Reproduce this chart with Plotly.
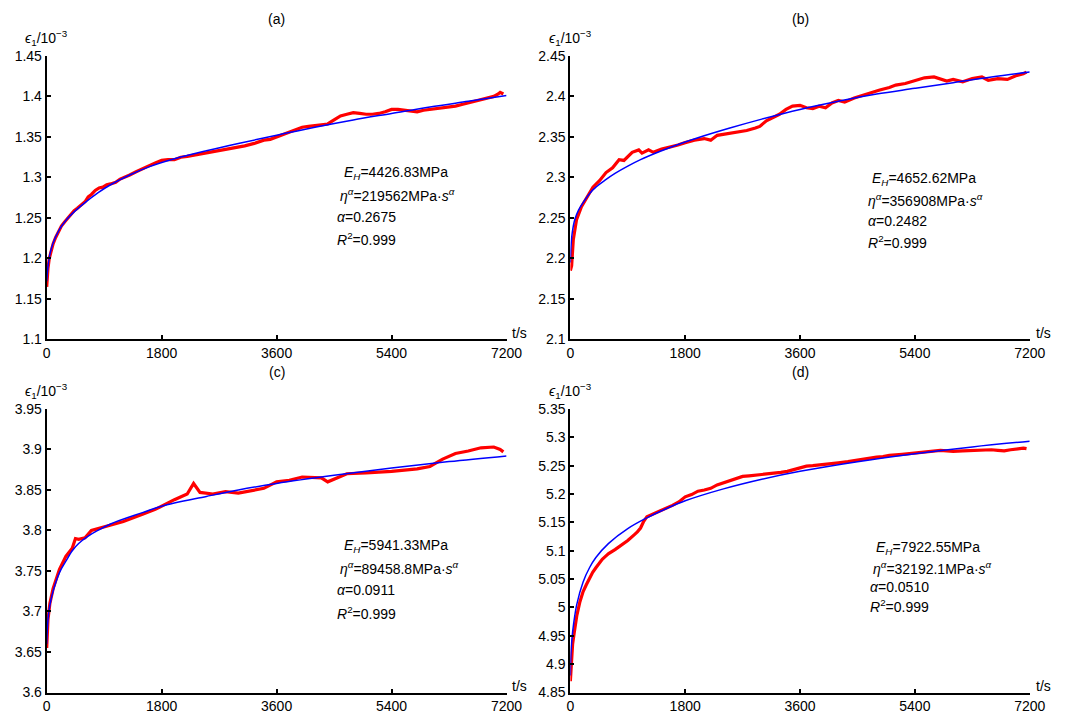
import plotly.graph_objects as go

# ---------------- data ----------------
x_ticks = [0, 1800, 3600, 5400, 7200]
x_ticktext = ["0", "1800", "3600", "5400", "7200"]

# (a)
a_t_red = [0, 8, 20, 40, 70, 100, 140, 180, 230, 280, 330, 380, 430, 480, 540, 600, 650, 700, 760,
           820, 880, 940, 1000, 1080, 1150, 1220, 1300, 1400, 1500, 1600, 1700, 1800, 1900, 2000,
           2100, 2200, 2350, 2500, 2650, 2800, 2950, 3100, 3250, 3400, 3500, 3600, 3700, 3800,
           3900, 4000, 4100, 4200, 4300, 4400, 4500, 4600, 4700, 4800, 4900, 5000, 5100, 5200,
           5300, 5400, 5500, 5600, 5700, 5800, 5900, 6000, 6100, 6200, 6300, 6400, 6500, 6600,
           6700, 6800, 6900, 7000, 7070, 7100, 7150]
a_e_red = [1.165, 1.178, 1.188, 1.200, 1.209, 1.218, 1.226, 1.232, 1.240, 1.245, 1.250, 1.255,
           1.259, 1.262, 1.266, 1.270, 1.276, 1.279, 1.284, 1.287, 1.288, 1.291, 1.292, 1.294,
           1.298, 1.300, 1.303, 1.307, 1.311, 1.315, 1.318, 1.321, 1.322, 1.322, 1.325, 1.326,
           1.328, 1.330, 1.332, 1.335, 1.337, 1.339, 1.342, 1.346, 1.347, 1.350, 1.354, 1.357,
           1.360, 1.362, 1.363, 1.364, 1.365, 1.366, 1.371, 1.376, 1.378, 1.380, 1.379, 1.378,
           1.378, 1.379, 1.381, 1.384, 1.384, 1.383, 1.382, 1.381, 1.383, 1.384, 1.385, 1.386,
           1.387, 1.388, 1.390, 1.392, 1.394, 1.396, 1.398, 1.400, 1.403, 1.405, 1.403]
a_t_fit = [0, 20, 50, 100, 200, 300, 450, 600, 800, 1000, 1300, 1600, 2000, 2500, 3000, 3600,
           4200, 4800, 5400, 6000, 6600, 7200]
a_e_fit = [1.172, 1.190, 1.205, 1.219, 1.236, 1.247, 1.259, 1.269, 1.281, 1.291, 1.303, 1.313,
           1.323, 1.333, 1.342, 1.352, 1.362, 1.371, 1.379, 1.387, 1.394, 1.401]
a_yticks = [1.1, 1.15, 1.2, 1.25, 1.3, 1.35, 1.4, 1.45]
a_yticktext = ["1.1", "1.15", "1.2", "1.25", "1.3", "1.35", "1.4", "1.45"]

# (b)
b_t_red = [0, 20, 46, 97, 174, 251, 354, 457, 559, 662, 764, 840, 969, 1072, 1123, 1226, 1300,
           1431, 1550, 1687, 1800, 1944, 2097, 2200, 2302, 2450, 2558, 2764, 2900, 2969, 3072,
           3180, 3277, 3380, 3482, 3600, 3700, 3800, 3900, 4000, 4100, 4200, 4300, 4450, 4600,
           4700, 4850, 5000, 5100, 5250, 5400, 5550, 5700, 5800, 5900, 6000, 6150, 6300, 6450,
           6550, 6700, 6850, 7000, 7100, 7150]
b_e_red = [2.185, 2.191, 2.223, 2.248, 2.264, 2.274, 2.288, 2.296, 2.306, 2.312, 2.322, 2.321,
           2.331, 2.334, 2.330, 2.334, 2.331, 2.335, 2.337, 2.340, 2.343, 2.346, 2.348, 2.346,
           2.352, 2.354, 2.356, 2.358, 2.361, 2.363, 2.370, 2.374, 2.378, 2.384, 2.388, 2.389,
           2.386, 2.385, 2.388, 2.386, 2.392, 2.395, 2.393, 2.398, 2.402, 2.405, 2.408, 2.411,
           2.414, 2.416, 2.419, 2.423, 2.424, 2.421, 2.419, 2.421, 2.418, 2.422, 2.424, 2.420,
           2.422, 2.421, 2.426, 2.428, 2.430]
b_t_fit = [0, 10, 30, 70, 130, 200, 300, 400, 550, 700, 900, 1100, 1400, 1700, 2000, 2500, 3000,
           3600, 4200, 4800, 5400, 6000, 6600, 7200]
b_e_fit = [2.195, 2.215, 2.232, 2.248, 2.260, 2.269, 2.280, 2.288, 2.297, 2.305, 2.314, 2.322,
           2.332, 2.341, 2.349, 2.361, 2.372, 2.384, 2.394, 2.403, 2.410, 2.417, 2.424, 2.430]
b_yticks = [2.1, 2.15, 2.2, 2.25, 2.3, 2.35, 2.4, 2.45]
b_yticktext = ["2.1", "2.15", "2.2", "2.25", "2.3", "2.35", "2.4", "2.45"]

# (c)
c_t_red = [0, 20, 50, 100, 200, 300, 400, 450, 500, 600, 700, 850, 1000, 1200, 1500, 1700, 2000,
           2200, 2300, 2400, 2600, 2800, 3000, 3200, 3400, 3600, 3800, 4000, 4300, 4400, 4700,
           5000, 5400, 5800, 6000, 6200, 6400, 6600, 6800, 7000, 7100, 7150]
c_e_red = [3.655, 3.690, 3.710, 3.728, 3.752, 3.768, 3.778, 3.790, 3.789, 3.791, 3.800, 3.803,
           3.806, 3.811, 3.820, 3.826, 3.838, 3.845, 3.858, 3.847, 3.845, 3.848, 3.846, 3.849,
           3.852, 3.860, 3.862, 3.866, 3.865, 3.860, 3.870, 3.871, 3.873, 3.876, 3.879, 3.888,
           3.895, 3.898, 3.902, 3.903, 3.900, 3.897]
c_t_fit = [0, 20, 50, 100, 200, 300, 400, 500, 650, 800, 1000, 1500, 1800, 2500, 3000, 3600,
           4500, 5400, 6300, 7200]
c_e_fit = [3.660, 3.690, 3.708, 3.725, 3.748, 3.762, 3.775, 3.784, 3.793, 3.800, 3.808, 3.822,
           3.830, 3.842, 3.850, 3.858, 3.868, 3.877, 3.885, 3.892]
c_yticks = [3.6, 3.65, 3.7, 3.75, 3.8, 3.85, 3.9, 3.95]
c_yticktext = ["3.6", "3.65", "3.7", "3.75", "3.8", "3.85", "3.9", "3.95"]

# (d)
d_t_red = [0, 15, 35, 60, 100, 150, 200, 250, 300, 350, 400, 450, 500, 550, 600, 700, 800, 900,
           1000, 1050, 1100, 1150, 1200, 1300, 1400, 1500, 1600, 1700, 1800, 1900, 2000, 2100,
           2200, 2300, 2400, 2500, 2600, 2700, 2800, 2900, 3000, 3100, 3200, 3300, 3400, 3500,
           3600, 3700, 3800, 3900, 4000, 4100, 4200, 4350, 4500, 4650, 4800, 4900, 5000, 5200,
           5400, 5500, 5600, 5700, 5800, 5900, 6000, 6150, 6300, 6450, 6600, 6700, 6800, 6900,
           7000, 7100, 7150]
d_e_red = [4.870, 4.905, 4.935, 4.955, 4.985, 5.010, 5.028, 5.040, 5.052, 5.062, 5.070, 5.078,
           5.085, 5.090, 5.095, 5.102, 5.110, 5.118, 5.128, 5.133, 5.140, 5.152, 5.160, 5.165,
           5.170, 5.174, 5.180, 5.186, 5.195, 5.199, 5.205, 5.207, 5.210, 5.216, 5.220, 5.224,
           5.228, 5.231, 5.232, 5.233, 5.234, 5.236, 5.237, 5.238, 5.240, 5.243, 5.246, 5.249,
           5.250, 5.251, 5.252, 5.254, 5.255, 5.257, 5.260, 5.262, 5.265, 5.266, 5.268, 5.270,
           5.272, 5.274, 5.275, 5.276, 5.277, 5.276, 5.275, 5.276, 5.277, 5.277, 5.278, 5.277,
           5.276, 5.278, 5.279, 5.281, 5.280]
d_t_fit = [0, 10, 25, 50, 100, 200, 300, 400, 600, 900, 1200, 1500, 1800, 2400, 3000, 3600, 4500,
           5400, 6300, 7200]
d_e_fit = [4.880, 4.920, 4.945, 4.970, 5.005, 5.045, 5.070, 5.088, 5.113, 5.139, 5.158, 5.174,
           5.188, 5.209, 5.226, 5.240, 5.257, 5.271, 5.283, 5.293]
d_yticks = [4.85, 4.9, 4.95, 5.0, 5.05, 5.1, 5.15, 5.2, 5.25, 5.3, 5.35]
d_yticktext = ["4.85", "4.9", "4.95", "5", "5.05", "5.1", "5.15", "5.2", "5.25", "5.3", "5.35"]

titles = ["(a)", "(b)", "(c)", "(d)"]
params = [
    ["<i>E</i><sub><i>H</i></sub>=4426.83MPa", "<i>η</i><sup><i>α</i></sup>=219562MPa·<i>s</i><sup><i>α</i></sup>",
     "<i>α</i>=0.2675", "<i>R</i><sup>2</sup>=0.999"],
    ["<i>E</i><sub><i>H</i></sub>=4652.62MPa", "<i>η</i><sup><i>α</i></sup>=356908MPa·<i>s</i><sup><i>α</i></sup>",
     "<i>α</i>=0.2482", "<i>R</i><sup>2</sup>=0.999"],
    ["<i>E</i><sub><i>H</i></sub>=5941.33MPa", "<i>η</i><sup><i>α</i></sup>=89458.8MPa·<i>s</i><sup><i>α</i></sup>",
     "<i>α</i>=0.0911", "<i>R</i><sup>2</sup>=0.999"],
    ["<i>E</i><sub><i>H</i></sub>=7922.55MPa", "<i>η</i><sup><i>α</i></sup>=32192.1MPa·<i>s</i><sup><i>α</i></sup>",
     "<i>α</i>=0.0510", "<i>R</i><sup>2</sup>=0.999"],
]

# ---------------- figure ----------------
W, H = 1084, 723
FONT = "Liberation Sans, Arial, sans-serif"

panels = [
    dict(tr=a_t_red, er=a_e_red, tf=a_t_fit, ef=a_e_fit, yt=a_yticks, ytt=a_yticktext),
    dict(tr=b_t_red, er=b_e_red, tf=b_t_fit, ef=b_e_fit, yt=b_yticks, ytt=b_yticktext),
    dict(tr=c_t_red, er=c_e_red, tf=c_t_fit, ef=c_e_fit, yt=c_yticks, ytt=c_yticktext),
    dict(tr=d_t_red, er=d_e_red, tf=d_t_fit, ef=d_e_fit, yt=d_yticks, ytt=d_yticktext),
]

# pixel layout of each plot area: (left, right, top, bottom)
boxes = [(43.5, 512, 49, 339), (577, 1045, 49, 339), (43.5, 512, 410, 700), (577, 1045, 410, 700)]
# annotation anchor (x-start in data t, y of first line in data, line step in data)
ann_pos = [(4520, 1.306, 0.0275), (4640, 2.298, 0.026), (4520, 3.781, 0.0275), (4660, 5.104, 0.034)]
ann_indent = [[1.0, 0.4, 0.0, 0.0], [0.6, 0.0, 0.0, 0.0], [1.0, 0.4, 0.0, 0.0], [1.0, 0.5, 0.0, 0.0]]

fig = go.Figure()
layout = dict(width=W, height=H, margin=dict(l=0, r=0, t=0, b=0), paper_bgcolor="white",
              plot_bgcolor="white", showlegend=False, font=dict(family=FONT, size=14, color="black"))
annotations = []

for i, p in enumerate(panels):
    n = "" if i == 0 else str(i + 1)
    xa, ya = "x" + n, "y" + n
    fig.add_trace(go.Scatter(x=p["tr"], y=p["er"], mode="lines", line=dict(color="#ff0000", width=3.2),
                             xaxis=xa, yaxis=ya, hoverinfo="skip"))
    fig.add_trace(go.Scatter(x=p["tf"], y=p["ef"], mode="lines", line=dict(color="#0000ff", width=1.5, shape="spline"),
                             xaxis=xa, yaxis=ya, hoverinfo="skip"))
    l, r, t, b = boxes[i]
    common = dict(showline=True, linecolor="black", linewidth=2, ticks="inside", ticklen=4, tickwidth=1.5,
                  tickcolor="black", showgrid=False, zeroline=False, mirror=False,
                  tickfont=dict(family=FONT, size=14, color="black"), fixedrange=True)
    layout["xaxis" + n] = dict(common, domain=[l / W, r / W], range=[0, 7200], tickvals=x_ticks,
                               ticktext=x_ticktext, anchor=ya)
    layout["yaxis" + n] = dict(common, domain=[1 - b / H, 1 - t / H], range=[p["yt"][0], p["yt"][-1]],
                               tickvals=p["yt"], ticktext=p["ytt"], anchor=xa)
    # title
    annotations.append(dict(text=titles[i], x=(l + r) / 2 / W, y=1 - (t - 38) / H, xref="paper", yref="paper",
                            showarrow=False, font=dict(size=14), xanchor="center", yanchor="middle"))
    # y label
    annotations.append(dict(text="<i>ϵ</i><sub>1</sub>/10<sup>−3</sup>", x=l / W, y=1 - (t - 18) / H,
                            xref="paper", yref="paper", showarrow=False, font=dict(size=14),
                            xanchor="center", yanchor="middle"))
    # x label
    annotations.append(dict(text="t/s", x=(r + 4) / W, y=1 - (b - 7) / H, xref="paper", yref="paper",
                            showarrow=False, font=dict(size=14), xanchor="left", yanchor="middle"))
    # parameters
    x0, y0, dy = ann_pos[i]
    for k, line in enumerate(params[i]):
        annotations.append(dict(text=line, x=x0 + ann_indent[i][k] * 100, y=y0 - k * dy, xref=xa, yref=ya,
                                showarrow=False, font=dict(size=14), xanchor="left", yanchor="middle"))

layout["annotations"] = annotations
fig.update_layout(**layout)
fig.write_html("out.html")
